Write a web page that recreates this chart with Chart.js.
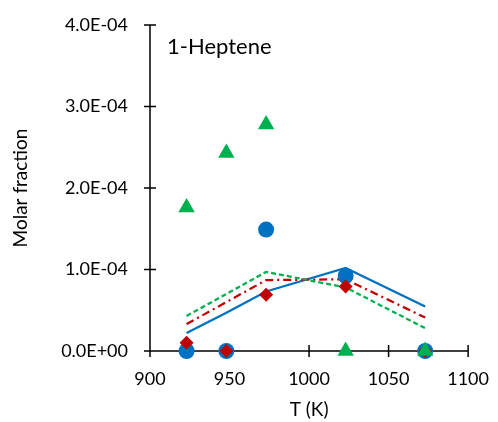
<!DOCTYPE html>
<html><head><meta charset="utf-8">
<script src="https://cdn.jsdelivr.net/npm/chart.js@4.4.1/dist/chart.umd.min.js"></script>
<style>html,body{margin:0;padding:0;background:#fff;}#wrap{width:498px;height:422px;}</style>
</head><body><div id="wrap"><canvas id="c" width="498" height="422"></canvas></div>
<script>
const temps = [923, 948, 973, 1023, 1073];
const expBlue = [0, 0, 1.49e-4, 0.92e-4, 0];
const expRed = [0.10e-4, 0, 0.69e-4, 0.79e-4, 0];
const expGreen = [1.76e-4, 2.43e-4, 2.78e-4, 0, 0];
const modelBlue = [0.22e-4, 0.47e-4, 0.73e-4, 1.02e-4, 0.545e-4];
const modelRed = [0.33e-4, 0.60e-4, 0.87e-4, 0.88e-4, 0.41e-4];
const modelGreen = [0.43e-4, 0.70e-4, 0.97e-4, 0.78e-4, 0.28e-4];
const xTicks = [900, 950, 1000, 1050, 1100];
const yTicks = [0, 1e-4, 2e-4, 3e-4, 4e-4];
const title = "1-Heptene";

const BLUE = '#0070C0', RED = '#C00000', GREEN = '#00B050';
const pts = arr => temps.map((t, i) => ({x: t, y: arr[i]}));
const FONT = 'Lato, "Liberation Sans", sans-serif';

function fmtE(v) {
  if (v === 0) return '0.0E+00';
  const e = Math.floor(Math.log10(Math.abs(v)) + 1e-9);
  const m = v / Math.pow(10, e);
  const s = e < 0 ? '-' : '+';
  return m.toFixed(1) + 'E' + s + String(Math.abs(e)).padStart(2, '0');
}

const crossTicks = {
  id: 'crossTicks',
  beforeDatasetsDraw(chart) {
    const ctx = chart.ctx, a = chart.chartArea;
    const xs = chart.scales.x, ys = chart.scales.y;
    ctx.save();
    ctx.strokeStyle = '#000'; ctx.lineWidth = 1.5;
    ctx.beginPath();
    ctx.moveTo(a.left, a.top); ctx.lineTo(a.left, a.bottom);
    ctx.moveTo(a.left, a.bottom); ctx.lineTo(a.right, a.bottom);
    xTicks.forEach(v => { const p = xs.getPixelForValue(v); ctx.moveTo(p, a.bottom - 6); ctx.lineTo(p, a.bottom + 6); });
    yTicks.forEach(v => { const p = ys.getPixelForValue(v); ctx.moveTo(a.left - 6, p); ctx.lineTo(a.left + 6, p); });
    ctx.stroke();
    ctx.fillStyle = '#000';
    ctx.font = '22px ' + FONT;
    ctx.textBaseline = 'middle';
    ctx.textAlign = 'left';
    ctx.fillText(title, a.left + 17, a.top + 22);
    ctx.restore();
  }
};

const scatterDs = (label, arr, color, style, radius, order) => ({
  label, data: pts(arr), showLine: false, pointStyle: style, pointRadius: radius,
  pointHoverRadius: radius, backgroundColor: color, borderColor: color, borderWidth: 0, order, clip: false
});
const lineDs = (label, arr, color, dash, order) => ({
  label, data: pts(arr), showLine: true, pointRadius: 0, borderColor: color,
  borderWidth: 2.25, borderDash: dash, fill: false, tension: 0, order, clip: false
});

new Chart(document.getElementById('c'), {
  type: 'scatter',
  data: {
    datasets: [
      scatterDs('Exp. green', expGreen, GREEN, 'triangle', 9.5, 0),
      scatterDs('Exp. red', expRed, RED, 'rectRot', 7, 1),
      scatterDs('Exp. blue', expBlue, BLUE, 'circle', 8, 2),
      lineDs('Model blue', modelBlue, BLUE, [], 5),
      lineDs('Model red', modelRed, RED, [8, 4, 2, 4], 4),
      lineDs('Model green', modelGreen, GREEN, [5, 3], 3)
    ]
  },
  options: {
    responsive: false, animation: false, devicePixelRatio: 1,
    layout: {padding: {left: 9, right: 28, top: 25, bottom: 1}},
    plugins: {legend: {display: false}, tooltip: {enabled: false}},
    scales: {
      x: {
        type: 'linear', min: 900, max: 1100,
        afterBuildTicks: s => { s.ticks = xTicks.map(v => ({value: v})); },
        grid: {display: false}, border: {display: false},
        ticks: {color: '#000', font: {family: FONT, size: 18}, padding: 9, maxRotation: 0,
          callback: v => String(v)},
        title: {display: true, text: 'T (K)', color: '#000', font: {family: FONT, size: 19}, padding: {top: 9, bottom: 0}},
        afterFit: s => { s.height = 70; }
      },
      y: {
        type: 'linear', min: 0, max: 4e-4,
        afterBuildTicks: s => { s.ticks = yTicks.map(v => ({value: v})); },
        grid: {display: false}, border: {display: false},
        ticks: {color: '#000', font: {family: FONT, size: 18}, padding: 14, callback: v => fmtE(v)},
        title: {display: true, text: 'Molar fraction', color: '#000', font: {family: FONT, size: 19}, padding: {top: 0, bottom: 8}},
        afterFit: s => { s.width = 141; }
      }
    }
  },
  plugins: [crossTicks]
});
</script></body></html>
